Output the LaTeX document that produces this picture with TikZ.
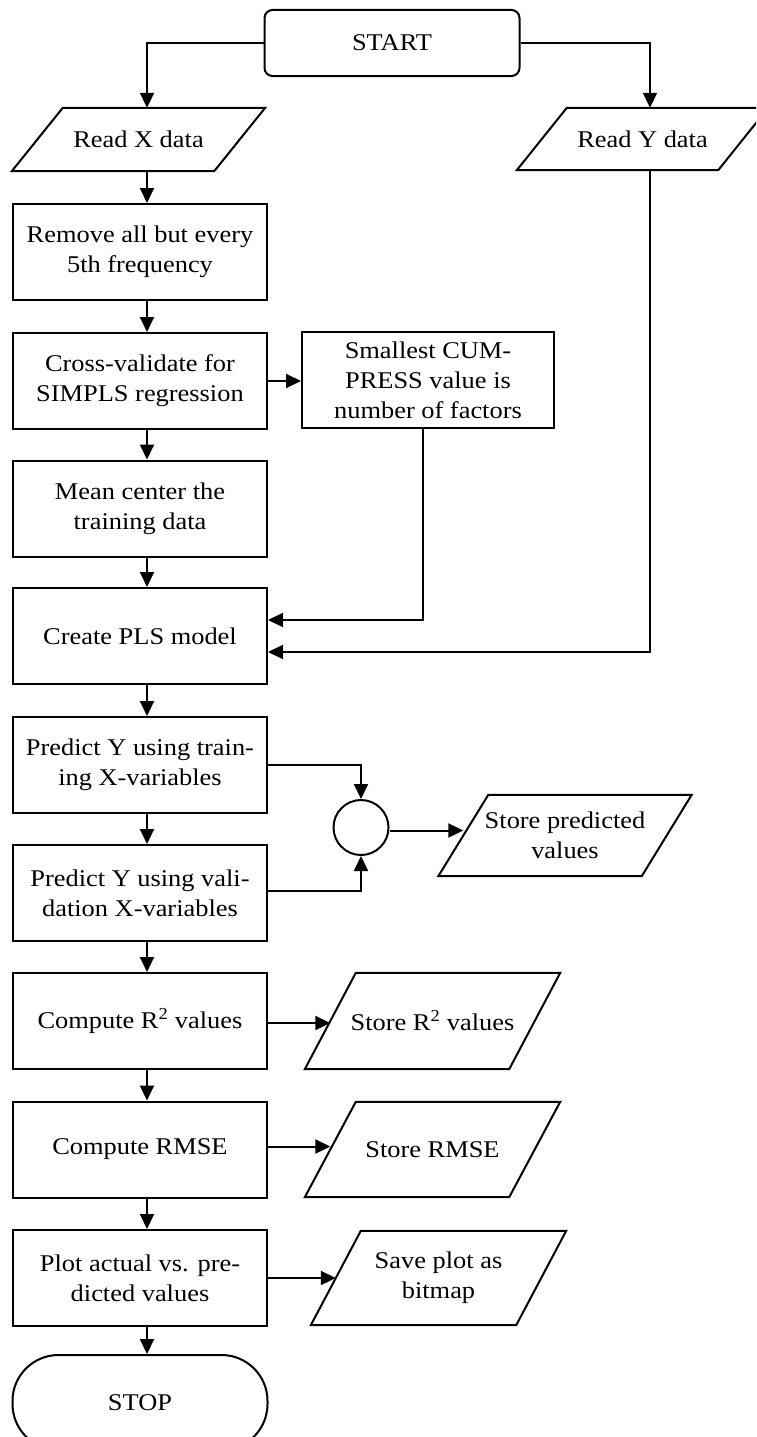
\documentclass[tikz,border=0pt]{standalone}
\usepackage{fontspec}
\setmainfont[FakeStretch=1.1]{Liberation Serif}
\usetikzlibrary{arrows.meta,calc}
\tikzset{
  txt/.style={font=\fontsize{24}{30}\selectfont, align=center},
  box/.style={txt, draw, line width=2pt, minimum width=254pt, minimum height=96pt, inner sep=2pt},
  io/.style={txt, inner sep=0pt},
  arr/.style={line width=2pt, -{Triangle[length=15pt,width=14pt]}},
  ln/.style={line width=2pt, line join=miter},
}
\newcommand{\parallelo}[2]{\draw[ln] ([xshift=-#2]#1.south west) -- ([xshift=-#2]#1.south east) -- ([xshift=#2]#1.north east) -- ([xshift=#2]#1.north west) -- cycle;}
\begin{document}
\begin{tikzpicture}[x=1pt,y=-1pt]
\useasboundingbox (0,0) rectangle (756,1437);
\clip (0,0) rectangle (756,1437);
\fill[white] (0,0) rectangle (756,1437);
\coordinate (xcol) at (147,0);
\coordinate (ycol) at (650,0);

% terminals
\node[box, minimum width=255pt, minimum height=66pt, rounded corners=8pt] (start) at (392,43) {START};
\node[box, minimum width=255pt, minimum height=95pt, rounded corners=46pt] (stop) at (140,1402.5) {STOP};

% input/output (parallelograms)
\node[io, minimum width=202pt, minimum height=63pt] (rx) at (138.5,139.5) {Read X data};
\node[io, minimum width=201pt, minimum height=62pt] (ry) at (642.5,139) {Read Y data};
\node[io, minimum width=203pt, minimum height=81pt] (sp) at (565,835.5) {Store predicted\\values};
\node[io, minimum width=204pt, minimum height=96pt] (sr2) at (432.5,1021) {Store R\textsuperscript{2} values};
\node[io, minimum width=204pt, minimum height=95pt] (srmse) at (432.5,1149.5) {Store RMSE};
\node[io, minimum width=205pt, minimum height=94pt] (save) at (438.5,1278) {Save plot as\\bitmap};
\parallelo{rx}{25.5pt}
\parallelo{ry}{25pt}
\parallelo{sp}{25pt}
\parallelo{sr2}{25.5pt}
\parallelo{srmse}{25.5pt}
\parallelo{save}{25pt}

% process boxes
\node[box] (remove) at (140,252) {Remove all but every\\5th frequency};
\node[box] (cross) at (140,381) {Cross-validate for\\SIMPLS regression};
\node[box, minimum width=252pt] (small) at (428,380) {Smallest CUM-\\PRESS value is\\number of factors};
\node[box] (mean) at (140,508.5) {Mean center the\\training data};
\node[box] (create) at (140,636) {Create PLS model};
\node[box] (ptrain) at (140,765) {Predict Y using train-\\ing X-variables};
\node[box] (pval) at (140,893) {Predict Y using vali-\\dation X-variables};
\node[box] (cr2) at (140,1021) {Compute R\textsuperscript{2} values};
\node[box] (crmse) at (140,1149.5) {Compute RMSE};
\node[box] (plot) at (140,1278) {Plot actual vs. pre-\\dicted values};

\node[draw, circle, line width=2pt, minimum size=55pt, inner sep=0pt] (circ) at (361,827.5) {};

% connectors
\draw[arr] (start.west) -| (xcol |- rx.north);
\draw[arr] (start.east) -| (ycol |- ry.north);
\draw[arr] (xcol |- rx.south) -- (xcol |- remove.north);
\draw[arr] (xcol |- remove.south) -- (xcol |- cross.north);
\draw[arr] (cross.east) -- (cross.east -| small.west);
\draw[arr] (xcol |- cross.south) -- (xcol |- mean.north);
\draw[arr] (xcol |- mean.south) -- (xcol |- create.north);
\draw[arr] ([xshift=-5pt]small.south) |- ([yshift=16pt]create.east);
\draw[arr] (ycol |- ry.south) |- ([yshift=-16pt]create.east);
\draw[arr] (xcol |- create.south) -- (xcol |- ptrain.north);
\draw[arr] (xcol |- ptrain.south) -- (xcol |- pval.north);
\draw[arr] (ptrain.east) -| (circ.north);
\draw[arr] ([yshift=2pt]pval.east) -| (circ.south);
\draw[arr] ([yshift=-3pt]circ.east) -- ([yshift=-3pt]circ.east -| sp.west);
\draw[arr] (xcol |- pval.south) -- (xcol |- cr2.north);
\draw[arr] ([yshift=-2pt]cr2.east) -- ([yshift=-2pt]sr2.west);
\draw[arr] (xcol |- cr2.south) -- (xcol |- crmse.north);
\draw[arr] ([yshift=3pt]crmse.east) -- ([yshift=3pt]srmse.west);
\draw[arr] (xcol |- crmse.south) -- (xcol |- plot.north);
\draw[arr] (plot.east) -- (save.west);
\draw[arr] (xcol |- plot.south) -- (xcol |- stop.north);
\end{tikzpicture}
\end{document}
